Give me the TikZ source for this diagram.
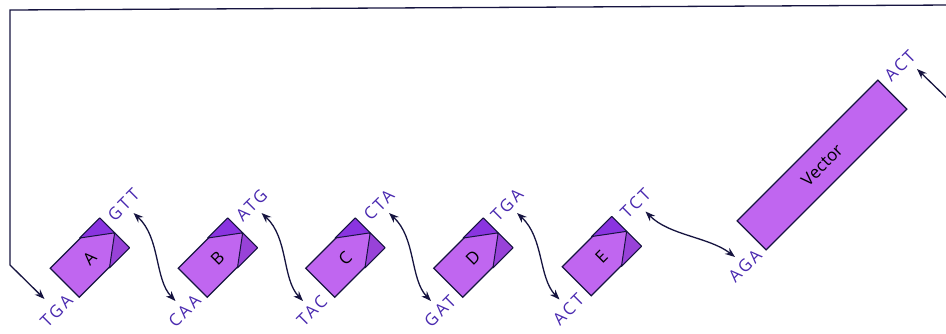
\documentclass[tikz,border=0pt]{standalone}
\usepackage{fontspec}
\setmainfont{Open Sans}
\newfontfamily\lblfont[LetterSpace=15]{Open Sans}
\usetikzlibrary{arrows.meta,calc}
\definecolor{fraglight}{HTML}{C066F0}
\definecolor{fragdark}{HTML}{8A34E0}
\definecolor{fragdarkb}{HTML}{9842D8}
\definecolor{lblcol}{HTML}{4A2AB0}
\definecolor{linecol}{HTML}{161440}
\begin{document}
\begin{tikzpicture}[x=1pt,y=-1pt,
  frag/.style={draw=linecol, line width=1.2pt, fill=fraglight, rotate=45,
    minimum width=70pt, minimum height=41pt, inner sep=0pt},
  vec/.style={frag, minimum width=199pt, font=\fontsize{17}{17}\selectfont, text=black},
  fold/.style={draw=linecol, line width=1pt, line join=round},
  lbl/.style={rotate=45, text=lblcol, font=\lblfont\fontsize{17}{17}\selectfont, inner sep=0pt},
  letter/.style={rotate=45, font=\fontsize{17}{17}\selectfont, text=black, inner sep=0pt},
  tip/.tip={Stealth[length=10pt,width=7.5pt]},
  conn/.style={draw=linecol, line width=1.3pt, tip-tip},
  frame/.style={draw=linecol, line width=1.3pt, -tip}
]
\useasboundingbox (0,0) rectangle (946,334);
\fill[white] (0,0) rectangle (946,334);

\foreach \n/\cx/\cy/\l/\r in {A/89.5/258/TGA/GTT, B/217.5/258/CAA/ATG, C/345/258/TAC/CTA, D/473/258/GAT/TGA, E/601.5/256.5/ACT/TCT} {
  \node[frag] (\n) at (\cx,\cy) {};
  \filldraw[fold, fill=fragdark] (\n.north east) -- (\n.east) -- ($(\n.north east)!0.4!(\n.north west)$) -- cycle;
  \filldraw[fold, fill=fragdarkb] (\n.south east) -- (\n.east) -- ($(\n.south east)!0.4!(\n.south west)$) -- cycle;
  \node[letter] (\n-t) at (\n) {\n};
  \node[lbl] (\n-l) at ($(\n)+(-33,53)$) {\l};
  \node[lbl] (\n-r) at ($(\n)+(34,-53)$) {\r};
}

\node[vec] (V) at (822,165) {Vector};
\node[lbl] (V-l) at ($(V)+(-77,101)$) {AGA};
\node[lbl] (V-r) at ($(V)+(78,-99)$) {ACT};

\foreach \a/\b in {A/B,B/C,C/D,D/E}
  \draw[conn] ($(\a-r)+(10,8)$) .. controls +(27,25) and +(-21,-22) .. ($(\b-l)+(-9,-10)$);
\draw[conn] ($(E-r)+(10,8)$) .. controls +(24,24) and +(-26,-20) .. ($(V-l)+(-10,-9)$);

\coordinate (topR) at (952,5);
\coordinate (topL) at (10,10);
\coordinate (bend) at (10,265);
\coordinate (rin) at (952,103);
\draw[frame] (topR) -- (topL) -- (bend) -- ($(A-l)+(-12,-12)$);
\draw[frame] (rin) -- ($(V-r)+(17,3)$);
\end{tikzpicture}
\end{document}
